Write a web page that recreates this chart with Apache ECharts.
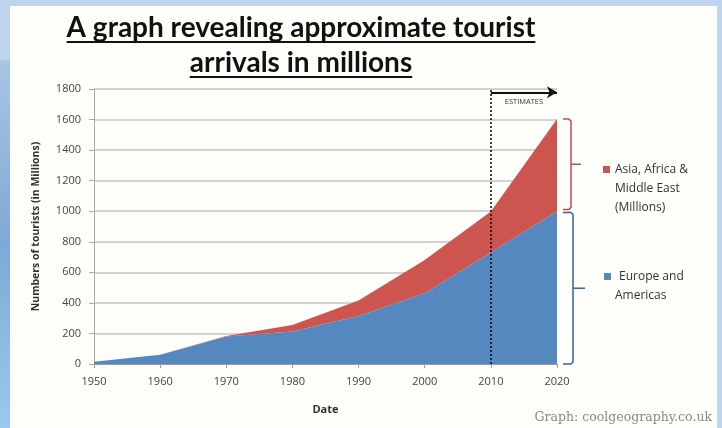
<!DOCTYPE html>
<html>
<head>
<meta charset="utf-8">
<script src="https://cdn.jsdelivr.net/npm/echarts@6/dist/echarts.min.js"></script>
<style>
html,body{margin:0;padding:0;background:#bfd5ee;}
#chart{width:722px;height:428px;}
</style>
</head>
<body>
<div id="chart"></div>
<script>
var years = ['1950', '1960', '1970', '1980', '1990', '2000', '2010', '2020'];
var europeAmericas = [15, 60, 180, 212, 315, 463, 730, 1000];
var asiaAfricaME = [0, 0, 3, 43, 100, 218, 268, 603];
var yTicks = [0, 200, 400, 600, 800, 1000, 1200, 1400, 1600, 1800];
var titleLines = ['A graph revealing approximate tourist', 'arrivals in millions'];
var legendRed = ['Asia, Africa &', 'Middle East', '(Millions)'];
var legendBlue = ['Europe and', 'Americas'];

var blue = '#5588bf';
var red = '#cc5550';

var chart = echarts.init(document.getElementById('chart'));

chart.setOption({
  backgroundColor: '#bfd5ee',
  animation: false,
  grid: { left: 94, right: 165, top: 89, bottom: 64 },
  xAxis: {
    type: 'category', data: years, boundaryGap: false,
    name: 'Date', nameLocation: 'middle', nameGap: 40,
    nameTextStyle: { fontFamily: 'Open Sans', fontWeight: 'bold', fontSize: 11, color: '#333' },
    axisLine: { show: true, lineStyle: { color: '#999' } },
    axisTick: { show: true, length: 4, alignWithLabel: true, lineStyle: { color: '#999' } },
    splitLine: { show: false },
    axisLabel: { fontFamily: 'Open Sans', fontSize: 11, color: '#444', margin: 12, interval: 0 }
  },
  yAxis: {
    type: 'value', min: 0, max: 1800, interval: 200,
    name: 'Numbers of tourists (in Millions)', nameLocation: 'middle', nameGap: 52, nameRotate: 90,
    nameTextStyle: { fontFamily: 'Open Sans', fontWeight: 'bold', fontSize: 10.5, color: '#333' },
    axisLine: { show: true, lineStyle: { color: '#aaa' } },
    axisTick: { show: true, length: 5, lineStyle: { color: '#aaa' } },
    splitLine: { show: true, lineStyle: { color: '#c4c4c4', width: 1.5 } },
    axisLabel: { fontFamily: 'Open Sans', fontSize: 11, color: '#444', margin: 13,
      formatter: function (v) { return yTicks.indexOf(v) >= 0 ? String(v) : ''; } }
  },
  series: [
    {
      name: 'Europe and Americas', type: 'line', stack: 'total', data: europeAmericas,
      showSymbol: false, lineStyle: { width: 0 }, areaStyle: { color: blue, opacity: 1 }, z: 2,
      markLine: {
        silent: true, symbol: ['none', 'none'],
        lineStyle: { color: '#111', type: [2, 2], width: 1.6 },
        label: { show: false },
        data: [[{ coord: ['2010', 0] }, { coord: ['2010', 1800] }]]
      }
    },
    {
      name: 'Asia, Africa & Middle East (Millions)', type: 'line', stack: 'total', data: asiaAfricaME,
      showSymbol: false, lineStyle: { width: 0 }, areaStyle: { color: red, opacity: 1 }, z: 2,
      markLine: {
        silent: true, symbol: ['none', 'arrow'], symbolSize: [9, 10],
        lineStyle: { color: '#111', type: 'solid', width: 2 },
        label: { show: true, position: 'insideMiddleBottom', formatter: 'ESTIMATES', fontSize: 7.5, color: '#333', fontFamily: 'Open Sans', distance: 5 },
        data: [[{ coord: ['2010', 1778] }, { coord: ['2020', 1778] }]]
      }
    }
  ]
});

function px(x, y) { return chart.convertToPixel({ gridIndex: 0 }, [x, y]); }
var ctx = document.createElement('canvas').getContext('2d');

var g = [];
// white card
g.push({ type: 'rect', shape: { x: 10, y: 6, width: 707, height: 430 }, style: { fill: '#fdfdf9' }, z: -10 });
// left sky strip
g.push({ type: 'rect', shape: { x: 0, y: 60, width: 10, height: 368 },
  style: { fill: { type: 'linear', x: 0, y: 0, x2: 0, y2: 1, colorStops: [{ offset: 0, color: '#a9c4e4' }, { offset: 0.5, color: '#7fa9d6' }, { offset: 1, color: '#9cc8ec' }] } }, z: -11 });
// title
var titleFont = 'bold 28px Lato';
ctx.font = titleFont;
[28, 63].forEach(function (ty, i) {
  g.push({ type: 'text', x: 301, y: ty, style: { text: titleLines[i], font: titleFont, fill: '#111', align: 'center', verticalAlign: 'middle' }, z: 10 });
  var w = ctx.measureText(titleLines[i]).width;
  var ly = i === 0 ? 42 : 77;
  g.push({ type: 'line', shape: { x1: 301 - w / 2, y1: ly, x2: 301 + w / 2, y2: ly }, style: { stroke: '#111', lineWidth: 2 }, z: 10 });
});
// credit
g.push({ type: 'text', x: 712, y: 418, style: { text: 'Graph: coolgeography.co.uk', font: '12.5px "DejaVu Serif"', fill: '#8a8a8a', align: 'right', verticalAlign: 'middle' }, z: 10 });

// legends
var lx = 603;
g.push({ type: 'rect', shape: { x: lx, y: 166, width: 7, height: 7 }, style: { fill: red } });
legendRed.forEach(function (t, i) {
  g.push({ type: 'text', x: 615, y: 170 + i * 19, style: { text: t, font: '12px "Open Sans"', fill: '#333', verticalAlign: 'middle' } });
});
g.push({ type: 'rect', shape: { x: lx + 1, y: 273, width: 7, height: 7 }, style: { fill: blue } });
legendBlue.forEach(function (t, i) {
  g.push({ type: 'text', x: i === 0 ? 619 : 615, y: 277 + i * 19, style: { text: t, font: '12px "Open Sans"', fill: '#333', verticalAlign: 'middle' } });
});

// braces
var last = years.length - 1;
function brace(vTop, vBot, xOff, tick, color) {
  var p1 = px(years[last], vTop), p2 = px(years[last], vBot);
  var x0 = p1[0] + 6, xv = p1[0] + xOff;
  var ym = (p1[1] + p2[1]) / 2;
  g.push({ type: 'polyline', shape: { points: [[x0, p1[1]], [xv - 2, p1[1]], [xv, p1[1] + 2], [xv, p2[1] - 2], [xv - 2, p2[1]], [x0, p2[1]]] },
    style: { stroke: color, lineWidth: 1.5, fill: null }, z: 5 });
  g.push({ type: 'line', shape: { x1: xv, y1: ym, x2: xv + tick, y2: ym }, style: { stroke: color, lineWidth: 1.5 }, z: 5 });
}
brace(europeAmericas[last] + asiaAfricaME[last], europeAmericas[last] + 12, 14, 10, '#c0504d');
brace(europeAmericas[last] - 8, 0, 16, 12, '#3a5fa0');

chart.setOption({ graphic: g });
</script>
</body>
</html>
